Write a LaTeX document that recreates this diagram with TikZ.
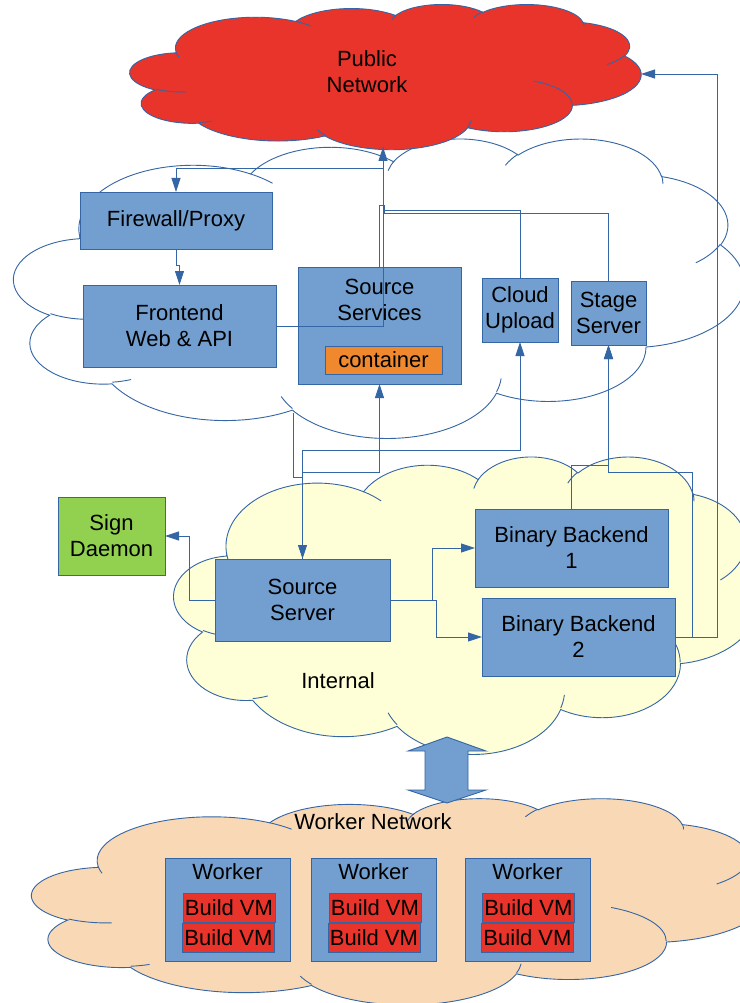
\documentclass[tikz,border=0pt]{standalone}
\usepackage{fontspec}
\setmainfont{Liberation Sans}
\usetikzlibrary{arrows.meta}

\definecolor{edge}{HTML}{3465A4}
\definecolor{boxfill}{HTML}{729FCF}
\definecolor{pubred}{HTML}{E8342A}
\definecolor{orangefill}{HTML}{F0892E}
\definecolor{greenfill}{HTML}{92D050}
\definecolor{yellowfill}{HTML}{FFFFD7}
\definecolor{peach}{HTML}{F9D9B5}

% One bump of the cloud outline: elliptic arc given by radii and the
% visual start angle / sweep, turned into TikZ's parametric angles.
\newcommand\defbump[5]{%
  \pgfmathsetmacro\bumpfrom{atan2(sin(#4)/#3,cos(#4)/#2)}%
  \pgfmathsetmacro\bumpto{atan2(sin(#4+#5)/#3,cos(#4+#5)/#2)}%
  \pgfmathsetmacro\bumpsweep{mod(\bumpto-\bumpfrom+720,360)}%
  \expandafter\xdef\csname bump#1\endcsname{arc[start angle=\bumpfrom, delta angle=\bumpsweep, x radius=#2, y radius=#3]}%
}
% outer outline (frame 432 x 432, y downwards)
\defbump{A}{67.53}{91.90}{-190.4875}{123.7805}
\defbump{B}{53.33}{72.67}{-144.1024}{89.9452}
\defbump{C}{43.65}{59.45}{-145.8079}{99.7230}
\defbump{D}{48.57}{65.95}{-130.9861}{117.2417}
\defbump{E}{53.33}{72.73}{-78.7089}{109.0269}
\defbump{F}{67.75}{92.20}{-46.2673}{130.2690}
\defbump{G}{57.85}{78.67}{0.6250}{114.0333}
\defbump{H}{67.52}{92.15}{22.4516}{115.1726}
\defbump{I}{77.20}{105.43}{66.2426}{75.7110}
\defbump{J}{43.60}{59.18}{-274.9421}{146.7356}
\defbump{K}{43.45}{59.45}{-246.8285}{152.5189}
% inner creases
\defbump{a}{43.45}{59.45}{86.7420}{26.4295}
\defbump{b}{43.60}{59.18}{73.6105}{11.4475}
\defbump{c}{67.52}{92.15}{137.6242}{14.0811}
\defbump{d}{67.52}{92.15}{6.4533}{15.9984}
\defbump{e}{57.85}{78.67}{-70.2924}{70.9174}
\defbump{f}{53.33}{72.73}{30.3180}{27.7515}
\defbump{g}{48.57}{65.95}{-13.7443}{14.8589}
\defbump{h}{48.57}{65.95}{-149.1815}{18.1954}
\defbump{i}{43.65}{59.45}{-163.4943}{17.6864}
\defbump{j}{67.53}{91.90}{-66.7070}{12.3194}
\defbump{k}{67.53}{91.90}{157.6544}{11.8582}

% \netcloud{left}{top}{width}{height}{fill}
\newcommand\netcloud[5]{%
  \begin{scope}[shift={(#1,#2)}, x={#3pt/432}, y={-#4pt/432}]
    \path[cloudline, fill=#5] (39.00,143.70) \bumpA \bumpB \bumpC \bumpD \bumpE \bumpF
      \bumpG \bumpH \bumpI \bumpJ \bumpK -- cycle;
    \path[cloudline] (46.93,261.77) \bumpa (69.28,348.99) \bumpb
      (164.78,390.90) \bumpc (288.27,347.51) \bumpd (341.29,229.54) \bumpe
      (417.98,153.54) \bumpf (383.24,54.26) \bumpg (290.78,39.52) \bumph
      (221.41,47.20) \bumpi (140.00,51.92) \bumpj (41.27,157.89) \bumpk;
  \end{scope}}

\begin{document}
\begin{tikzpicture}[x=1pt, y=-1pt,
  cloudline/.style={draw=edge, line width=0.9pt},
  txt/.style={font=\fontsize{22}{26}\selectfont, align=center, inner sep=0pt},
  box/.style={txt, draw=edge, fill=boxfill, line width=0.9pt, outer sep=0pt},
  vmbox/.style={box, fill=pubred, minimum width=92pt, minimum height=29pt},
  workerbox/.style={box, minimum width=125pt, minimum height=103pt},
  conn/.style={draw=edge, line width=0.9pt},
  arr/.style={conn, -{Triangle[length=14pt,width=9pt]}}]
\useasboundingbox (0,0) rectangle (739,1003);
\fill[white] (0,0) rectangle (739,1003);

% networks
\netcloud{14}{138}{730}{299}{white}
\netcloud{130}{4}{511}{145}{pubred}
\netcloud{174}{456}{585}{297}{yellowfill}
\netcloud{32}{798}{733}{206}{peach}

\node[txt] (pub) at (367,72) {Public\\Network};
\node[txt] (internal) at (338,681) {Internal};
\node[txt] (workernet) at (373,822) {Worker Network};

\coordinate (pubS) at (383,147);
\coordinate (pubE) at (641,74);
\coordinate (dmzS) at (293,413);

% DMZ hosts
\node[box, minimum width=192pt, minimum height=57pt] (fw) at (176,220.5) {Firewall/Proxy};
\node[box, minimum width=193pt, minimum height=82pt] (fe) at (179.5,326) {Frontend\\Web \& API};
\node[box, minimum width=163pt, minimum height=117pt] (ss) at (379.5,325.5) {};
\node[txt] (sstext) at (379.5,300) {Source\\Services};
\node[box, fill=orangefill, minimum width=117pt, minimum height=28pt] (ct) at (383.5,360) {container};
\node[box, minimum width=76pt, minimum height=64pt] (cu) at (520,310) {Cloud\\Upload};
\node[box, minimum width=75pt, minimum height=64pt] (st) at (608.5,313) {Stage\\Server};

% internal hosts
\node[box, fill=greenfill, minimum width=107pt, minimum height=78pt] (sd) at (111.5,536) {Sign\\Daemon};
\node[box, minimum width=175pt, minimum height=82pt] (sv) at (302.5,600) {Source\\Server};
\node[box, minimum width=193pt, minimum height=78pt] (b1) at (571.5,548) {Binary Backend\\1};
\node[box, minimum width=193pt, minimum height=78pt] (b2) at (578.5,637) {Binary Backend\\2};

% workers
\node[workerbox] (w1) at (227.5,909.5) {};
\node[workerbox] (w2) at (373.5,909.5) {};
\node[workerbox] (w3) at (527.5,909.5) {};
\node[txt] (w1t) at (227.5,872) {Worker};
\node[txt] (w2t) at (373.5,872) {Worker};
\node[txt] (w3t) at (527.5,872) {Worker};
\node[vmbox] (w1a) at (229,907.5) {Build VM};
\node[vmbox] (w1b) at (228.5,937.5) {Build VM};
\node[vmbox] (w2a) at (375,907.5) {Build VM};
\node[vmbox] (w2b) at (374,937.5) {Build VM};
\node[vmbox] (w3a) at (528.5,907.5) {Build VM};
\node[vmbox] (w3b) at (527.5,937.5) {Build VM};

% connectors in the DMZ
\draw[arr] (pubS) -- (383,168) -| (fw.north);
\draw[arr] (fw.south) -- (176,265) -| (fe.north);
\draw[arr] (fe.east) -- (383,326) -- (pubS);
\draw[conn] (ss.north) -- (379.5,205) -- (384,205) -- (384,210) -| (cu.north);
\draw[conn] (ss.north) |- (384,205) -- (384,213) -| (st.north);

% connectors from the internal network
\draw[arr] (sv.north) -- (302.5,472) -| (ss.south);
\draw[arr] (sv.north) -- (302.5,450) -| (cu.south);
\draw[arr] (dmzS) -- (293,477) -- (302.5,477) -- (sv.north);
\draw[arr] (sv.west) -- (189,600) |- (sd.east);
\draw[arr] (sv.east) -- (432,600) |- (b1.west);
\draw[arr] (sv.east) -- (436,600) |- (b2.west);
\draw[arr] (b1.north) -- (571.5,465) -| (st.south);
\draw[arr] (b2.east) -- (692,637) -- (692,472) -- (608.5,472) -- (st.south);
\draw[arr] (b2.east) -- (717,637) |- (pubE);

% link between the internal and the worker network
\draw[conn, fill=boxfill] (447,737) -- (486,751) -- (468,751) -- (468,790) -- (486,790)
  -- (447,803) -- (408,790) -- (425,790) -- (425,751) -- (408,751) -- cycle;
\end{tikzpicture}
\end{document}
